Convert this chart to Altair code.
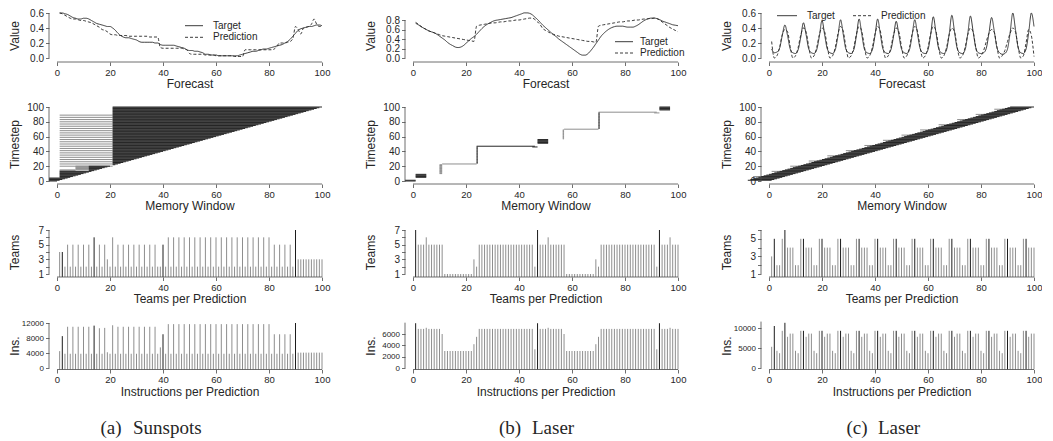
import altair as alt
import pandas as pd

# ---------------- data ----------------
STEPS = list(range(1, 101))
XTICKS = [0, 20, 40, 60, 80, 100]

# (a) Sunspots forecast
a_target = [0.60,0.60,0.59,0.58,0.56,0.54,0.53,0.52,0.52,0.53,
            0.53,0.52,0.50,0.48,0.46,0.45,0.44,0.43,0.42,0.42,
            0.40,0.37,0.33,0.30,0.28,0.27,0.27,0.26,0.25,0.24,
            0.22,0.21,0.21,0.21,0.21,0.21,0.20,0.20,0.18,0.17,
            0.17,0.17,0.17,0.17,0.16,0.15,0.14,0.13,0.11,0.10,
            0.10,0.09,0.09,0.08,0.07,0.05,0.05,0.04,0.04,0.04,
            0.03,0.03,0.03,0.03,0.03,0.03,0.03,0.03,0.04,0.05,
            0.06,0.07,0.08,0.09,0.09,0.10,0.11,0.12,0.12,0.13,
            0.14,0.15,0.16,0.17,0.18,0.20,0.22,0.25,0.29,0.33,
            0.37,0.39,0.40,0.41,0.42,0.42,0.43,0.44,0.44,0.43]
a_pred = [0.60,0.59,0.57,0.55,0.53,0.52,0.52,0.51,0.50,0.50,
          0.49,0.48,0.47,0.45,0.43,0.41,0.38,0.37,0.35,0.32,
          0.31,0.31,0.30,0.30,0.30,0.30,0.29,0.29,0.29,0.29,
          0.29,0.29,0.29,0.29,0.28,0.28,0.28,0.28,0.14,0.13,
          0.13,0.13,0.13,0.13,0.13,0.13,0.13,0.12,0.11,0.06,
          0.05,0.05,0.05,0.05,0.05,0.04,0.04,0.04,0.04,0.03,
          0.03,0.03,0.03,0.03,0.03,0.03,0.02,0.02,0.02,0.02,
          0.11,0.11,0.11,0.11,0.11,0.11,0.11,0.11,0.11,0.11,
          0.11,0.12,0.16,0.20,0.20,0.20,0.21,0.22,0.26,0.42,
          0.38,0.32,0.40,0.41,0.42,0.45,0.52,0.45,0.42,0.42]

# (b) Laser forecast
b_target = [0.73,0.70,0.66,0.63,0.60,0.57,0.55,0.53,0.50,0.46,
            0.42,0.38,0.33,0.29,0.26,0.23,0.22,0.23,0.26,0.31,
            0.36,0.41,0.45,0.50,0.56,0.62,0.67,0.71,0.74,0.77,
            0.79,0.80,0.81,0.82,0.83,0.84,0.85,0.87,0.89,0.91,
            0.93,0.95,0.95,0.94,0.91,0.86,0.81,0.75,0.69,0.64,
            0.59,0.54,0.49,0.45,0.40,0.36,0.32,0.28,0.24,0.20,
            0.16,0.12,0.08,0.06,0.06,0.09,0.15,0.22,0.30,0.38,
            0.46,0.52,0.57,0.61,0.64,0.66,0.67,0.67,0.67,0.66,
            0.65,0.65,0.65,0.67,0.70,0.74,0.78,0.81,0.83,0.84,
            0.84,0.83,0.81,0.78,0.76,0.74,0.72,0.70,0.69,0.68]
b_pred = [0.75,0.71,0.67,0.63,0.60,0.57,0.55,0.53,0.51,0.49,
          0.47,0.46,0.45,0.44,0.43,0.42,0.41,0.40,0.39,0.38,
          0.37,0.36,0.35,0.67,0.69,0.70,0.71,0.72,0.73,0.74,
          0.74,0.75,0.76,0.76,0.77,0.78,0.78,0.79,0.80,0.80,
          0.81,0.82,0.83,0.84,0.84,0.81,0.76,0.70,0.62,0.58,
          0.55,0.52,0.50,0.48,0.46,0.45,0.44,0.43,0.42,0.41,
          0.40,0.39,0.38,0.37,0.36,0.35,0.35,0.34,0.33,0.67,
          0.69,0.70,0.71,0.72,0.73,0.74,0.75,0.76,0.76,0.77,
          0.78,0.78,0.79,0.80,0.80,0.81,0.82,0.82,0.83,0.83,
          0.84,0.83,0.80,0.76,0.72,0.68,0.64,0.61,0.58,0.55]

# (c) Laser forecast
c_target = [0.12,0.07,0.08,0.13,0.30,0.44,0.30,0.12,0.07,0.06,
            0.11,0.28,0.47,0.31,0.12,0.07,0.06,0.11,0.29,0.50,
            0.31,0.12,0.07,0.06,0.11,0.29,0.51,0.32,0.12,0.07,
            0.06,0.11,0.30,0.52,0.32,0.12,0.07,0.06,0.11,0.30,
            0.52,0.32,0.12,0.07,0.06,0.11,0.29,0.49,0.31,0.12,
            0.07,0.06,0.11,0.30,0.51,0.33,0.13,0.07,0.06,0.11,
            0.31,0.55,0.34,0.13,0.07,0.06,0.11,0.32,0.57,0.35,
            0.13,0.07,0.06,0.11,0.32,0.56,0.36,0.14,0.07,0.06,
            0.07,0.13,0.33,0.54,0.36,0.14,0.07,0.05,0.06,0.12,
            0.34,0.60,0.38,0.14,0.07,0.06,0.12,0.34,0.60,0.42]
c_pred = [0.22,0.00,
          0.03,0.14,0.31,0.38,0.35,0.15,0.00,
          0.03,0.14,0.31,0.40,0.35,0.15,0.00,
          0.03,0.14,0.31,0.40,0.35,0.15,0.00,
          0.03,0.14,0.32,0.42,0.36,0.15,0.00,
          0.03,0.14,0.32,0.42,0.36,0.15,0.00,
          0.03,0.14,0.32,0.42,0.36,0.15,0.00,
          0.03,0.14,0.31,0.40,0.35,0.15,0.00,
          0.03,0.14,0.32,0.42,0.36,0.15,0.00,
          0.03,0.14,0.32,0.42,0.36,0.15,0.00,
          0.03,0.14,0.31,0.40,0.35,0.15,0.00,
          0.03,0.14,0.31,0.40,0.35,0.15,0.00,
          0.03,0.10,0.22,0.33,0.38,0.34,0.15,0.00,
          0.03,0.10,0.22,0.33,0.40,0.35,0.15,0.00,
          0.03,0.20,0.38,0.30,0.02]

# memory windows: runs (t_from, t_to, t_step, x_from, x_to [None = up to the timestep], colour)
a_mw_runs = [(0, 4, 1, -3, None, "k"), (5, 13, 1, 1, None, "k"), (14, 20, 1, 12, None, "k"),
             (21, 100, 1, 21, None, "k"),
             (14, 15, 1, 1, 7, "g"), (15, 20, 1, 7, 12, "g"), (20, 90, 3, 1, 21, "g")]
b_mw_runs = [(0, 1, 1, -3, 1, "k"), (5, 9, 1, 1, 5, "k"), (10, 22, 1, 10, 11, "g"),
             (23, 23, 1, 11, 24, "g"),
             (24, 46, 1, 24, 24.4, "k"), (46, 46, 1, 45, 47, "k"), (47, 47, 1, 24, 46, "k"),
             (51, 56, 1, 47, 51, "k"), (57, 69, 1, 56.5, 57, "g"), (70, 70, 1, 57, 70, "g"),
             (71, 92, 1, 70, 70.4, "k"), (92, 92, 1, 91, 93, "g"), (93, 93, 1, 70, 92, "g"),
             (96, 100, 1, 93, 97, "k")]
c_mw_from = [-8,-7,-6,-5,-4,-3,-2,-1,0,1,2,3,4,5,6,7,8,9,10,11,12,13,14,15,16,17,18,19,20,21,
             22,23,24,25,26,27,28,29,30,31,32,33,34,35,36,37,38,39,40,41,42,43,44,45,46,47,48,
             49,50,51,52,53,54,55,56,57,58,59,60,61,62,63,64,65,66,67,68,69,70,71,72,73,74,75,
             76,77,78,79,80,81,82,83,84,85,86,87,88,89,90,91]
c_tip_t = [6, 13, 20, 27, 34, 41, 48, 55, 62, 69, 76, 83, 90, 97]
c_tip_from = [-6, 1, 8, 15, 22, 29, 36, 43, 50, 57, 64, 71, 78, 85]
c_tip_to = [-2, 5, 12, 19, 26, 33, 40, 47, 54, 61, 68, 75, 82, 89]

# teams per prediction
a_teams = [4,4,2,5,2,5,2,5,2,5,2,5,2,6,2,5,2,5,3,2,
           6,2,5,2,5,2,5,2,5,2,5,2,5,2,5,2,5,2,2,5,
           2,6,2,6,2,6,2,6,2,6,2,6,2,6,2,6,2,6,2,6,
           2,6,2,6,2,6,2,6,2,6,2,6,2,6,2,6,2,6,2,6,
           2,5,2,5,2,5,2,5,2,7,3,3,3,3,3,3,3,3,3,3]
a_ins = [4500,8500,3800,11000,3800,11000,3800,11000,3800,11000,3800,11000,3800,11300,3800,10600,3800,10700,4200,3800,
         11400,3800,11000,3800,11000,3800,11000,3800,11000,3800,11000,3800,11000,3800,11000,3800,11000,3800,5500,9000,
         3800,11700,3800,11700,3800,11700,3800,11700,3800,11700,3800,11700,3800,11700,3800,11700,3800,11700,3800,11700,
         3800,11700,3800,11700,3800,11700,3800,11700,3800,11700,3800,11700,3800,11700,3800,11700,3800,11700,3800,11700,
         3800,9000,3800,9000,3800,9000,3800,9000,3800,12000,4100,4100,4100,4100,4100,4100,4100,4100,4100,4100]
a_col = "gkggggggggggg" + "kgggg" + "gg" + "g" * 19 + "k" + "g" * 49 + "k" + "g" * 10

b_teams = [7,5,5,5,6,5,5,5,5,5, 5,1,1,1,1,1,1,1,1,1, 1,1,3,2,5,5,5,5,5,5, 5,5,5,5,5,5,5,5,5,5,
           5,5,5,5,5,2,7,5,5,5, 6,5,5,5,5,5,5,1,1,1, 1,1,1,1,1,1,1,1,3,2, 5,5,5,5,5,5,5,5,5,5,
           5,5,5,5,5,5,5,5,5,5, 5,2,7,5,5,5,6,5,5,5]
b_ins = [7900,6900,6900,6900,7100,6900,6900,6900,6900,6900,
         6000,3000,3000,3000,3000,3000,3000,3000,3000,3000,
         3000,3000,4200,5500,6900,6900,6900,6900,6900,6900,
         6900,6900,6900,6900,6900,6900,6900,6900,6900,6900,
         6900,6900,6900,6900,6900,3300,7900,6900,6900,6900,
         7100,6900,6900,6900,6900,6900,6000,3000,3000,3000,
         3000,3000,3000,3000,3000,3000,3000,3000,4200,5500,
         6900,6900,6900,6900,6900,6900,6900,6900,6900,6900,
         6900,6900,6900,6900,6900,6900,6900,6900,6900,6900,
         6900,3300,7900,6900,6900,6900,7100,6900,6900,6900]
b_col = "k" + "g" * 45 + "k" + "g" * 45 + "k" + "g" * 7

c_teams = [3,5,2,2,5,6,4,4,4,2,2,
           5,5,4,4,4,2,2, 5,5,4,4,4,2,2, 5,5,4,4,4,2,2, 5,5,4,4,4,2,2,
           5,5,4,4,4,2,2, 5,5,4,4,4,2,2, 5,5,4,4,4,2,2, 5,5,4,4,4,2,2,
           5,5,4,4,4,2,2, 5,5,4,4,4,2,2, 5,5,4,4,4,2,2, 5,5,4,4,4,2,2,
           5,5,4,4,4]
c_ins = [5300,10500,4300,3700,9300,11300,7800,8600,8600,4300,3700,
         9300,9300,7800,8600,8600,4300,3700, 9300,9300,7800,8600,8600,4300,3700,
         9300,9300,7800,8600,8600,4300,3700, 9300,9300,7800,8600,8600,4300,3700,
         9300,9300,7800,8600,8600,4300,3700, 9300,9300,7800,8600,8600,4300,3700,
         9300,9300,7800,8600,8600,4300,3700, 9300,9300,7800,8600,8600,4300,3700,
         9300,9300,7800,8600,8600,4300,3700, 9300,9300,7800,8600,8600,4300,3700,
         9300,9300,7800,8600,8600,4300,3700, 9300,9300,7800,8600,8600,4300,3700,
         9300,9300,7800,8600,8600]
c_col = "gkgggkggggg" + "gkggggg" * 12 + "gkggg"

for arr in [a_target, a_pred, b_target, b_pred, c_target, c_pred, c_mw_from,
            a_teams, a_ins, b_teams, b_ins, c_teams, c_ins, a_col, b_col, c_col]:
    assert len(arr) == 100, len(arr)

# ---------------- style ----------------
FONT = "Liberation Sans"
SERIF = "Liberation Serif"
INK = "#262626"
BAR_K = "#1c1c1c"
BAR_G = "#8e8e8e"
AXC = "#4a4a4a"
W = 265
HF, HM, HT, HI = 45, 74, 44, 45
XOFF_F, XOFF_M, XOFF_T, XOFF_I = 4, 3, 3, 1.5
YOFF = 8
ONE = pd.DataFrame({"a": [0]})
XS = alt.Scale(domain=[0, 100], nice=False, zero=False)
CSCALE = alt.Scale(domain=["k", "g"], range=[BAR_K, BAR_G])


def xaxis(title, off):
    return alt.Axis(values=XTICKS, domain=False, grid=False, tickSize=3.5, tickColor=AXC,
                    tickWidth=0.8, offset=off, labelFont=FONT, labelFontSize=9.5, labelColor=INK,
                    labelPadding=1.5, labelFlush=False, labelOverlap=False, format="d",
                    title=title, titleFont=FONT, titleFontSize=12, titleFontWeight="normal",
                    titleColor=INK, titlePadding=2)


def yaxis(title, values, h, fmt, fs=10, expr=None):
    kw = dict(values=values, domain=False, grid=False, tickSize=3.5, tickColor=AXC, tickWidth=0.8,
              offset=YOFF, labelFont=FONT, labelFontSize=fs, labelColor=INK, labelPadding=2,
              labelOverlap=False, labelFlush=False, format=fmt,
              title=title, titleFont=FONT, titleFontSize=12, titleFontWeight="normal",
              titleColor=INK, titleAngle=270, titleAlign="center", titleBaseline="middle",
              titleX=-(43 - YOFF), titleY=h / 2)
    if expr:
        kw["labelExpr"] = expr
    return alt.Axis(**kw)


def axis_lines(h, xoff, y0, y1, yax):
    xl = alt.Chart(ONE).mark_rule(color=AXC, strokeWidth=0.8).encode(
        x=alt.value(0), x2=alt.value(W), y=alt.value(h + xoff))
    yl = alt.Chart(ONE).mark_rule(color=AXC, strokeWidth=0.8).encode(
        x=alt.value(-YOFF), y=alt.YDatum(y0, axis=yax), y2=alt.Y2Datum(y1))
    return [xl, yl]


def legend_layers(items):
    out = []
    for kind, px, py, extra in items:
        if kind == "solid":
            out.append(alt.Chart(ONE).mark_rule(color=INK, strokeWidth=0.9).encode(
                x=alt.value(px), x2=alt.value(px + extra), y=alt.value(py)))
        elif kind == "dash":
            out.append(alt.Chart(ONE).mark_rule(color=INK, strokeWidth=0.9, strokeDash=[3, 2]).encode(
                x=alt.value(px), x2=alt.value(px + extra), y=alt.value(py)))
        else:
            out.append(alt.Chart(ONE).mark_text(font=FONT, fontSize=10, color=INK, align="left",
                                                baseline="middle").encode(
                x=alt.value(px), y=alt.value(py), text=alt.value(extra)))
    return out


def forecast_panel(target, pred, ydom, yvals, ytop, legend):
    df = pd.DataFrame({"x": STEPS + STEPS, "v": target + pred,
                       "s": ["Target"] * 100 + ["Prediction"] * 100})
    yax = yaxis("Value", yvals, HF, ".1f")
    x = alt.X("x:Q", scale=XS, axis=xaxis("Forecast", XOFF_F))
    y = alt.Y("v:Q", scale=alt.Scale(domain=ydom, nice=False, zero=False), axis=yax)
    lines = alt.Chart(df).mark_line(color=INK, strokeWidth=0.9, interpolate="monotone").encode(
        x=x, y=y,
        strokeDash=alt.StrokeDash("s:N", scale=alt.Scale(domain=["Target", "Prediction"],
                                                          range=[[1, 0], [3, 2]]), legend=None))
    return alt.layer(lines, *axis_lines(HF, XOFF_F, 0, ytop, yax), *legend_layers(legend)).properties(
        width=W, height=HF)


def mw_panel(runs=None, per_t=None):
    rows = []
    if runs:
        for t0, t1, st, x0, x1, c in runs:
            for t in range(t0, t1 + 1, st):
                rows.append({"t": t, "x0": x0, "x1": t if x1 is None else x1, "c": c})
    if per_t:
        for t, x0, x1, c in per_t:
            rows.append({"t": t, "x0": x0, "x1": x1, "c": c})
    df = pd.DataFrame(rows)
    yax = yaxis("Timestep", XTICKS, HM, "d")
    x = alt.X("x0:Q", scale=XS, axis=xaxis("Memory Window", XOFF_M))
    y = alt.Y("t:Q", scale=alt.Scale(domain=[0, 100], nice=False, zero=False), axis=yax)
    gray = alt.Chart(df).transform_filter(alt.datum.c == "g").mark_rule(
        color=BAR_G, strokeWidth=1.0).encode(x=x, x2="x1:Q", y=y)
    black = alt.Chart(df).transform_filter(alt.datum.c == "k").mark_rule(
        color="#262626", strokeWidth=1.0).encode(x=x, x2="x1:Q", y=y)
    return alt.layer(gray, black, *axis_lines(HM, XOFF_M, 0, 100, yax)).properties(width=W, height=HM)


def bar_panel(vals, cols, h, xoff, ydom, yvals, ytitle, xtitle, fmt, fs, ytop, expr=None,
              caption=None):
    df = pd.DataFrame({"x": STEPS, "v": vals, "c": list(cols)})
    yax = yaxis(ytitle, yvals, h, fmt, fs, expr)
    x = alt.X("x:Q", scale=XS, axis=xaxis(xtitle, xoff))
    y = alt.Y("v:Q", scale=alt.Scale(domain=ydom, nice=False, zero=False), axis=yax)
    bars = alt.Chart(df).mark_rule(strokeWidth=1).encode(
        x=x, y=y, y2=alt.value(h + xoff), color=alt.Color("c:N", scale=CSCALE, legend=None))
    layers = [bars, *axis_lines(h, xoff, yvals[0], ytop, yax)]
    if caption:
        (lab, lx), (name, nx) = caption
        layers.append(alt.Chart(ONE).mark_text(font=SERIF, fontSize=19, color=INK, align="center",
                                               baseline="middle").encode(
            x=alt.value(lx), y=alt.value(105), text=alt.value(lab)))
        layers.append(alt.Chart(ONE).mark_text(font=SERIF, fontSize=19, color=INK, align="left",
                                               baseline="middle").encode(
            x=alt.value(nx), y=alt.value(105), text=alt.value(name)))
    return alt.layer(*layers).properties(width=W, height=h)


ODD = "datum.value % 2 == 1 ? datum.label : ''"

fa = forecast_panel(a_target, a_pred, [0, 0.6], [0, 0.2, 0.4, 0.6], 0.6,
                    [("solid", 128, 12.7, 18), ("text", 156, 12.7, "Target"),
                     ("dash", 128, 24.3, 18), ("text", 156, 24.3, "Prediction")])
fb = forecast_panel(b_target, b_pred, [0, 0.8 * 45 / 38], [0, 0.2, 0.4, 0.6, 0.8], 0.8,
                    [("solid", 202, 28.7, 18), ("text", 227, 28.7, "Target"),
                     ("dash", 202, 40, 18), ("text", 227, 40, "Prediction")])
fc = forecast_panel(c_target, c_pred, [0, 0.6], [0, 0.2, 0.4, 0.6], 0.6,
                    [("solid", 8, 2.7, 20), ("text", 38, 2.7, "Target"),
                     ("dash", 84, 2.7, 20), ("text", 112, 2.7, "Prediction")])

ma = mw_panel(runs=a_mw_runs)
mb = mw_panel(runs=b_mw_runs)
mc = mw_panel(per_t=[(t, s, t, "k") for t, s in zip(STEPS, c_mw_from)] +
              [(t, f, e, "g") for t, f, e in zip(c_tip_t, c_tip_from, c_tip_to)])

ta = bar_panel(a_teams, a_col, HT, XOFF_T, [1, 7], [1, 2, 3, 4, 5, 6, 7], "Teams",
               "Teams per Prediction", "d", 10, 7, ODD)
tb = bar_panel(b_teams, b_col, HT, XOFF_T, [1, 7], [1, 2, 3, 4, 5, 6, 7], "Teams",
               "Teams per Prediction", "d", 10, 7, ODD)
tc = bar_panel(c_teams, c_col, HT, XOFF_T, [1, 6], [1, 2, 3, 4, 5, 6], "Teams",
               "Teams per Prediction", "d", 10, 6, ODD)

ia = bar_panel(a_ins, a_col, HI, XOFF_I, [0, 12000], [0, 4000, 8000, 12000], "Ins.",
               "Instructions per Prediction", "d", 8, 12000, caption=(("(a)", 54), ("Sunspots", 76)))
ib = bar_panel(b_ins, b_col, HI, XOFF_I, [0, 6000 * 45 / 34], [0, 2000, 4000, 6000, 8000], "Ins.",
               "Instructions per Prediction", "d", 8, 8000,
               expr="datum.value <= 6000 ? datum.label : ''",
               caption=(("(b)", 97), ("Laser", 119)))
ic = bar_panel(c_ins, c_col, HI, XOFF_I, [0, 10000 * 45 / 40], [0, 5000, 10000], "Ins.",
               "Instructions per Prediction", "d", 8, 11600, caption=(("(c)", 88), ("Laser", 109)))

chart = alt.concat(fa, fb, fc, ma, mb, mc, ta, tb, tc, ia, ib, ic, columns=3,
                   spacing={"row": 49, "column": 91}, bounds="flush").properties(
    padding={"left": 0, "top": 0, "right": 0, "bottom": 0}
).configure_view(stroke=None)

chart.save("out.html", embed_options={"renderer": "svg", "actions": False})
